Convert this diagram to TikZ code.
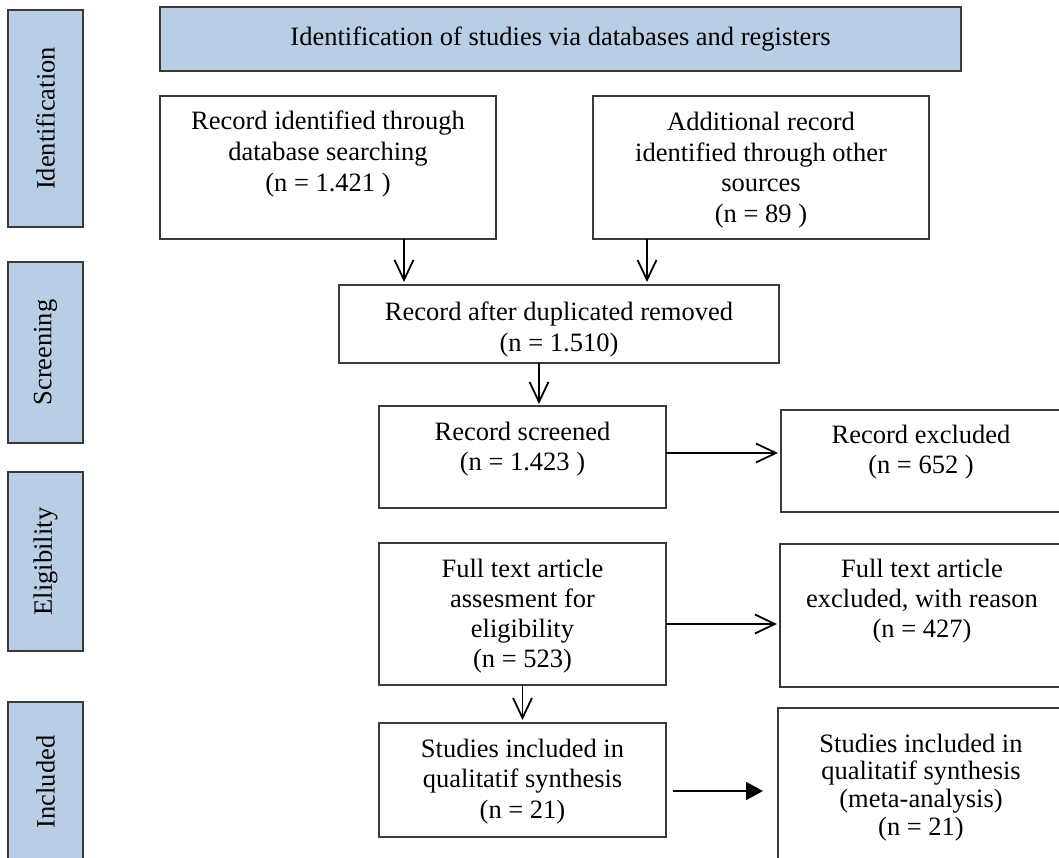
\documentclass[tikz,border=0pt]{standalone}
\usepackage{fontspec}
\setmainfont{Liberation Serif}
\usetikzlibrary{arrows.meta,calc}
\definecolor{sidefill}{HTML}{B9CDE5}
\definecolor{edgegray}{HTML}{3A3A3A}
\newcommand{\mylines}[1]{\begin{tabular}[t]{@{}c@{}}#1\end{tabular}}
\begin{document}
\begin{tikzpicture}[x=1pt,y=-1pt,
  box/.style={draw=edgegray, line width=1.4pt, fill=white, rectangle, inner sep=0pt, outer sep=0pt},
  sidebox/.style={draw=edgegray, line width=1.4pt, fill=sidefill, rectangle, inner sep=0pt, outer sep=0pt},
  txt/.style={inner sep=0pt, outer sep=0pt, font=\fontsize{26.5}{30}\selectfont},
  openarrow/.style={-{Straight Barb[length=20pt,width=19pt]}, line width=1.8pt, black},
  solidarrow/.style={-{Triangle[length=17pt,width=18pt]}, line width=1.8pt, black}]
\useasboundingbox (0,0) rectangle (1059,858);
\clip (0,0) rectangle (1059,858);

% side phase boxes
\node[sidebox, minimum width=75, minimum height=217] (sid) at (45.5,118.5) {};
\node[txt, rotate=90] at (sid.center) {Identification};
\node[sidebox, minimum width=75, minimum height=181] (ssc) at (45.5,352.5) {};
\node[txt, rotate=90] at (ssc.center) {Screening};
\node[sidebox, minimum width=75, minimum height=179] (sel) at (45.5,561.5) {};
\node[txt, rotate=90] at (sel.center) {Eligibility};
\node[sidebox, minimum width=75, minimum height=160] (sin) at (45.5,782) {};
\node[txt, rotate=90] at (sin.center) {Included};

% banner
\node[sidebox, minimum width=801, minimum height=64] (ban) at (560.5,39) {};
\node[txt] at (ban.center) {Identification of studies via databases and registers};

% boxes
\node[box, minimum width=336, minimum height=143] (b1) at (328,167.5) {};
\node[txt, anchor=base, font=\fontsize{26.5}{31}\selectfont] at (328,130)
  {\mylines{Record identified through\\database searching\\(n = 1.421 )}};

\node[box, minimum width=336, minimum height=143] (b2) at (761,167.5) {};
\node[txt, anchor=base, font=\fontsize{26.5}{30.5}\selectfont] at (761,131)
  {\mylines{Additional record\\identified through other\\sources\\(n = 89 )}};

\node[box, minimum width=440, minimum height=78] (dup) at (559,324) {};
\node[txt, anchor=base, font=\fontsize{26.5}{31}\selectfont] at (559,320)
  {\mylines{Record after duplicated removed\\(n = 1.510)}};

\node[box, minimum width=287, minimum height=102] (scr) at (522.5,457) {};
\node[txt, anchor=base] at (522.5,440)
  {\mylines{Record screened\\(n = 1.423 )}};

\node[box, minimum width=287, minimum height=142] (full) at (522.5,614) {};
\node[txt, anchor=base] at (522.5,577)
  {\mylines{Full text article\\assesment for\\eligibility\\(n = 523)}};

\node[box, minimum width=287, minimum height=114] (stud) at (522.5,780) {};
\node[txt, anchor=base, font=\fontsize{26.5}{30.5}\selectfont] at (522.5,757)
  {\mylines{Studies included in\\qualitatif synthesis\\(n = 21)}};

\node[box, minimum width=289, minimum height=102] (rexc) at (925.5,461) {};
\node[txt, anchor=base] at (921,443)
  {\mylines{Record excluded\\(n = 652 )}};

\node[box, minimum width=290, minimum height=143] (fexc) at (925,615.5) {};
\node[txt, anchor=base] at (922,577)
  {\mylines{Full text article\\excluded, with reason\\(n = 427)}};

\node[box, minimum width=292, minimum height=172] (meta) at (924,794) {};
\node[txt, anchor=base, font=\fontsize{26.5}{27.7}\selectfont] at (921,752)
  {\mylines{Studies included in\\qualitatif synthesis\\(meta-analysis)\\(n = 21)}};

% connectors
\draw[openarrow, shorten >=3pt] ($(b1.south west)+(244,0)$) -- ($(dup.north west)+(65,0)$);
\draw[openarrow, shorten >=3pt] ($(b2.south west)+(54,0)$) -- ($(dup.north west)+(308,0)$);
\draw[openarrow, shorten >=2pt] ($(dup.south west)+(200,0)$) -- ($(scr.north west)+(160,0)$);
\draw[openarrow, shorten >=3pt] (full.south) -- (stud.north);
\draw[openarrow, shorten >=3pt] ($(scr.north east)+(0,47)$) -- ($(rexc.north west)+(0,43)$);
\draw[openarrow, shorten >=3pt] ($(full.north east)+(0,81)$) -- ($(fexc.north west)+(0,80)$);
\draw[solidarrow] ($(stud.north east)+(7,68)$) -- ($(meta.north west)+(-15,83)$);
\end{tikzpicture}
\end{document}
